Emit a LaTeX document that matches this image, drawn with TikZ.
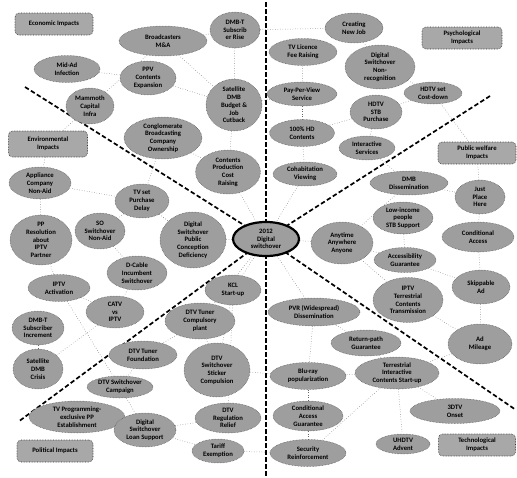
\documentclass[tikz,border=0pt]{standalone}
\usepackage{fontspec}
\setmainfont{Carlito}
\usetikzlibrary{shapes.geometric,backgrounds}
\newcommand\EL[6]{\node[el, minimum width=#4pt, minimum height=#5pt, label={[lbl]center:{#6}}] (#1) at (#2,#3) {};}
\begin{document}
\begin{tikzpicture}[x=1pt,y=-1pt,
  el/.style={ellipse, draw=black!70, densely dotted, line width=0.5pt, fill=black!38, inner sep=0pt},
  lbl/.style={align=center, font=\bfseries\fontsize{6.7}{7.7}\selectfont, inner sep=0pt, text=black},
  box/.style={rectangle, rounded corners=4pt, draw=black!80, densely dotted, line width=0.6pt, fill=black!34, align=center, font=\bfseries\fontsize{6.7}{7.7}\selectfont, inner sep=2pt},
  ctrst/.style={ellipse, draw=black, line width=2.2pt, fill=black!38, inner sep=0pt},
  con/.style={draw=black!60, dotted, line width=0.5pt},
  sepl/.style={draw=black, line width=1.7pt, dash pattern=on 4.5pt off 2.5pt}]
\useasboundingbox (0,0) rectangle (517,477);
% boxes
\node[box, minimum width=78pt, minimum height=22pt] (eco) at (54,24) {Economic Impacts};
\node[box, minimum width=80pt, minimum height=22pt] (psy) at (462,38) {Psychological\\Impacts};
\node[box, minimum width=79pt, minimum height=26pt] (env) at (48,144) {Environmental\\Impacts};
\node[box, minimum width=78pt, minimum height=22pt] (pub) at (477,153) {Public welfare\\Impacts};
\node[box, minimum width=76pt, minimum height=22pt] (pol) at (55,451) {Political Impacts};
\node[box, minimum width=77pt, minimum height=22pt] (tech) at (477,445) {Technological\\Impacts};
% economic
\EL{bro}{163}{41}{88}{30}{Broadcasters\\M\&A}
\EL{dmbt}{235}{30}{50}{36}{DMB-T\\Subscrib\\er Rise}
\EL{mid}{67}{69}{66}{27}{Mid-Ad\\Infection}
\EL{ppv}{148}{78}{56}{34}{PPV\\Contents\\Expansion}
\EL{mam}{90}{106}{48}{36}{Mammoth\\Capital\\Infra}
\EL{sat}{234}{105}{56}{52}{Satellite\\DMB\\Budget \&\\Job\\Cutback}
\EL{cong}{163}{138}{78}{42}{Conglomerate\\Broadcasting\\Company\\Ownership}
\EL{cost}{228}{172}{65}{44}{Contents\\Production\\Cost\\Raising}
% psychological
\EL{job}{354}{28}{58}{30}{Creating\\New Job}
\EL{tvl}{303}{52}{68}{27}{TV Licence\\Fee Raising}
\EL{dsn}{380}{67}{70}{44}{Digital\\Switchover\\Non-\\recognition}
\EL{hdc}{433}{93}{58}{22}{HDTV set\\Cost-down}
\EL{pps}{302}{94}{70}{24}{Pay-Per-View\\Service}
\EL{stb}{376}{112}{52}{34}{HDTV\\STB\\Purchase}
\EL{hd}{302}{133}{65}{27}{100\% HD\\Contents}
\EL{isv}{367}{148}{56}{24}{Interactive\\Services}
\EL{coh}{305}{174}{64}{24}{Cohabitation\\Viewing}
% public welfare
\EL{dmbd}{409}{183}{78}{24}{DMB\\Dissemination}
\EL{just}{480}{197}{50}{34}{Just\\Place\\Here}
\EL{low}{403}{218}{60}{32}{Low-income\\people\\STB Support}
\EL{ca}{478}{237}{72}{30}{Conditional\\Access}
\EL{any}{342}{243}{62}{42}{Anytime\\Anywhere\\Anyone}
\EL{acc}{405}{260}{62}{25}{Accessibility\\Guarantee}
\EL{skip}{481}{287}{58}{34}{Skippable\\Ad}
\EL{iptvt}{408}{300}{70}{45}{IPTV\\Terrestrial\\Contents\\Transmission}
\EL{mile}{480}{344}{64}{40}{Ad\\Mileage}
\EL{ret}{366}{343}{70}{26}{Return-path\\Guarantee}
\EL{pvr}{314}{312}{92}{28}{PVR (Widespread)\\Dissemination}
% environmental
\EL{app}{40}{183}{62}{32}{Appliance\\Company\\Non-Aid}
\EL{tvp}{142}{201}{54}{34}{TV set\\Purchase\\Delay}
\EL{pp}{41}{240}{62}{50}{PP\\Resolution\\about\\IPTV\\Partner}
\EL{so}{100}{231}{50}{36}{SO\\Switchover\\Non-Aid}
\EL{dcab}{137}{273}{60}{34}{D-Cable\\Incumbent\\Switchover}
\EL{iptva}{59}{288}{62}{27}{IPTV\\Activation}
\EL{catv}{115}{312}{58}{32}{CATV\\vs\\IPTV}
\EL{dmbi}{38}{328}{52}{34}{DMB-T\\Subscriber\\Increment}
\EL{satc}{38}{369}{50}{40}{Satellite\\DMB\\Crisis}
\EL{pcd}{193}{240}{66}{56}{Digital\\Switchover\\Public\\Conception\\Deficiency}
% political
\EL{kcl}{233}{290}{56}{30}{KCL\\Start-up}
\EL{dtvc}{200}{321}{70}{36}{DTV Tuner\\Compulsory\\plant}
\EL{found}{143}{355}{68}{28}{DTV Tuner\\Foundation}
\EL{stick}{217}{370}{66}{54}{DTV\\Switchover\\Sticker\\Compulsion}
\EL{camp}{120}{387}{66}{22}{DTV Switchover\\Campaign}
\EL{tvpr}{77}{417}{96}{32}{TV Programming-\\exclusive PP\\Establishment}
\EL{loan}{145}{430}{62}{34}{Digital\\Switchover\\Loan Support}
\EL{reg}{228}{418}{66}{30}{DTV\\Regulation\\Relief}
\EL{tar}{218}{451}{52}{24}{Tariff\\Exemption}
% technological
\EL{blu}{308}{376}{76}{27}{Blu-ray\\popularization}
\EL{tic}{397}{373}{84}{32}{Terrestrial\\Interactive\\Contents Start-up}
\EL{cag}{308}{416}{70}{30}{Conditional\\Access\\Guarantee}
\EL{tdtv}{455}{411}{90}{25}{3DTV\\Onset}
\EL{uhd}{403}{444}{54}{20}{UHDTV\\Advent}
\EL{sec}{308}{453}{76}{27}{Security\\Reinforcement}
% centre
\node[ctrst, minimum width=66pt, minimum height=34pt, label={[lbl]center:{2012\\Digital\\switchover}}] (c) at (266,239) {};
% separators ends
\coordinate (stop) at (266,2);
\coordinate (sbot) at (266,476);
\coordinate (stl) at (25,87);
\coordinate (str) at (490,96);
\coordinate (sbl) at (18,422);
\coordinate (sbr) at (516,410);
\begin{pgfonlayer}{background}
\foreach \a/\b in {bro/dmbt, dmbt/job, dmbt/sat, bro/sat, mid/ppv, bro/mam, ppv/sat, mam/env, sat/pps, sat/cost, cost/c, cong/tvp, cong/cost,
  job/dsn, tvl/pps, dsn/hdc, hdc/stb, hdc/pub, pps/hd, stb/hd, hd/coh, coh/c, stb/isv, isv/dmbd, pub/just, dmbd/just, dmbd/any, just/ca, low/acc, any/acc, any/iptvt, any/c, ca/skip, skip/mile, iptvt/mile, acc/skip, mile/tic, c/pvr, pvr/blu, ret/tic, ret/pvr,
  env/app, app/tvp, app/pp, tvp/so, tvp/pcd, pp/iptva, so/dcab, iptva/catv, catv/dcab, dmbi/satc, iptva/camp, catv/satc, pcd/c, c/kcl, c/dtvc, kcl/stick, kcl/reg, dtvc/found, dtvc/stick, found/camp, camp/loan, tvpr/loan, loan/reg, loan/tar, stick/blu, tar/sec,
  cag/sec, blu/cag, tic/blu, tic/tdtv, tic/uhd, sec/tic}
  \draw[con] (\a) -- (\b);
\draw[sepl] (stop) -- (sbot);
\draw[sepl] (stl) -- (c.center) -- (sbr);
\draw[sepl] (str) -- (c.center) -- (sbl);
\end{pgfonlayer}
\end{tikzpicture}
\end{document}
